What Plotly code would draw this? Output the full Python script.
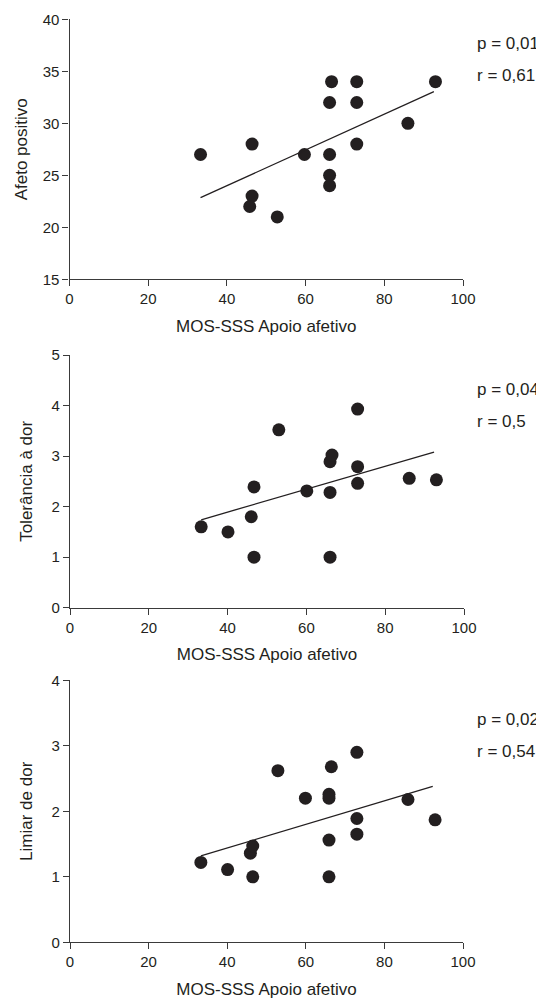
import plotly.graph_objects as go

# The page body has an 8px margin, so the figure is sized to fill the rest of the window.
OFF = 8
W, H = 544 - OFF, 1003 - OFF

# ---------------- data ----------------
# Panel 1: Afeto positivo vs MOS-SSS Apoio afetivo
apoio_1 = [33.3, 46.4, 46.4, 45.8, 52.8, 59.7, 66.1, 66.1, 66.1, 66.1, 66.6, 73.0, 73.0, 73.0, 86.0, 93.0]
afeto_positivo = [27, 28, 23, 22, 21, 27, 27, 25, 24, 32, 34, 34, 32, 28, 30, 34]
fit1_x = [33.3, 92.6]
fit1_y = [22.85, 33.04]

# Panel 2: Tolerância à dor
apoio_2 = [33.3, 40.1, 46.0, 46.7, 46.7, 66.0, 53.0, 60.1, 66.0, 66.0, 66.5, 73.0, 73.0, 73.0, 86.1, 93.0]
tolerancia_dor = [1.60, 1.50, 1.80, 2.39, 1.00, 1.00, 3.52, 2.31, 2.28, 2.89, 3.02, 3.93, 2.79, 2.46, 2.56, 2.53]
fit2_x = [33.3, 92.4]
fit2_y = [1.74, 3.08]

# Panel 3: Limiar de dor
apoio_3 = [33.3, 40.1, 46.5, 45.9, 46.5, 52.9, 59.9, 65.9, 65.9, 66.5, 65.9, 65.9, 73.0, 73.0, 73.0, 86.0, 92.9]
limiar_dor = [1.22, 1.11, 1.00, 1.36, 1.47, 2.62, 2.20, 2.26, 2.20, 2.68, 1.56, 1.00, 2.90, 1.89, 1.65, 2.18, 1.87]
fit3_x = [33.3, 92.3]
fit3_y = [1.32, 2.38]

x_ticks = [0, 20, 40, 60, 80, 100]
y1_ticks = [15, 20, 25, 30, 35, 40]
y2_ticks = [0, 1, 2, 3, 4, 5]
y3_ticks = [0, 1, 2, 3, 4]

x_title = "MOS-SSS Apoio afetivo"
y_titles = ["Afeto positivo", "Tolerância à dor", "Limiar de dor"]
stats = [("p = 0,01", "r = 0,61"), ("p = 0,04", "r = 0,5"), ("p = 0,02", "r = 0,54")]

# ---------------- style ----------------
INK = "#231f20"
AXC = "#3a3a3a"
FONT = "Liberation Sans, Arial, sans-serif"

def px_x(p):
    return (p - OFF) / W

def px_y(p):
    return 1 - (p - OFF) / H

panels = [
    dict(x=apoio_1, y=afeto_positivo, fx=fit1_x, fy=fit1_y, yr=[15, 40], yt=y1_ticks,
         xdom=(69.5, 463), ydom=(279.3, 19.3), xstand=13, ystand=10),
    dict(x=apoio_2, y=tolerancia_dor, fx=fit2_x, fy=fit2_y, yr=[0, 5], yt=y2_ticks,
         xdom=(70, 464), ydom=(607.7, 355), xstand=13, ystand=14),
    dict(x=apoio_3, y=limiar_dor, fx=fit3_x, fy=fit3_y, yr=[0, 4], yt=y3_ticks,
         xdom=(70, 463), ydom=(942.3, 680.3), xstand=13, ystand=14),
]
stat_y = [(43, 75), (389, 421), (719, 751)]

fig = go.Figure()
layout = dict(
    width=W, height=H,
    margin=dict(l=0, r=0, t=0, b=0),
    paper_bgcolor="white", plot_bgcolor="white",
    showlegend=False,
    font=dict(family=FONT, color=INK, size=15),
)

annotations = []
for i, p in enumerate(panels):
    n = i + 1
    xa = "x" if n == 1 else f"x{n}"
    ya = "y" if n == 1 else f"y{n}"
    fig.add_trace(go.Scatter(
        x=p["x"], y=p["y"], mode="markers", xaxis=xa, yaxis=ya,
        marker=dict(size=13, color=INK, line=dict(width=0)),
        cliponaxis=False,
    ))
    fig.add_trace(go.Scatter(
        x=p["fx"], y=p["fy"], mode="lines", xaxis=xa, yaxis=ya,
        line=dict(color=INK, width=1.3),
    ))
    axis_common = dict(
        showgrid=False, zeroline=False, showline=True, linecolor=AXC, linewidth=1.2,
        ticks="outside", ticklen=6, tickwidth=1.2, tickcolor=AXC,
        tickfont=dict(family=FONT, size=15, color=INK), automargin=False,
    )
    layout["xaxis" if n == 1 else f"xaxis{n}"] = dict(
        axis_common, range=[0, 100], tickvals=x_ticks,
        domain=[px_x(p["xdom"][0]), px_x(p["xdom"][1])],
        anchor=ya,
        title=dict(text=x_title, font=dict(family=FONT, size=17, color=INK), standoff=p["xstand"]),
    )
    layout["yaxis" if n == 1 else f"yaxis{n}"] = dict(
        axis_common, range=p["yr"], tickvals=p["yt"],
        domain=[px_y(p["ydom"][0]), px_y(p["ydom"][1])],
        anchor=xa,
        title=dict(text=y_titles[i], font=dict(family=FONT, size=17, color=INK), standoff=p["ystand"]),
    )
    for txt, yy in zip(stats[i], stat_y[i]):
        annotations.append(dict(
            text=txt, xref="paper", yref="paper", x=px_x(475), y=px_y(yy),
            xanchor="left", yanchor="middle", showarrow=False,
            font=dict(family=FONT, size=17, color=INK),
        ))

layout["annotations"] = annotations
fig.update_layout(**layout)
fig.write_html("out.html")
